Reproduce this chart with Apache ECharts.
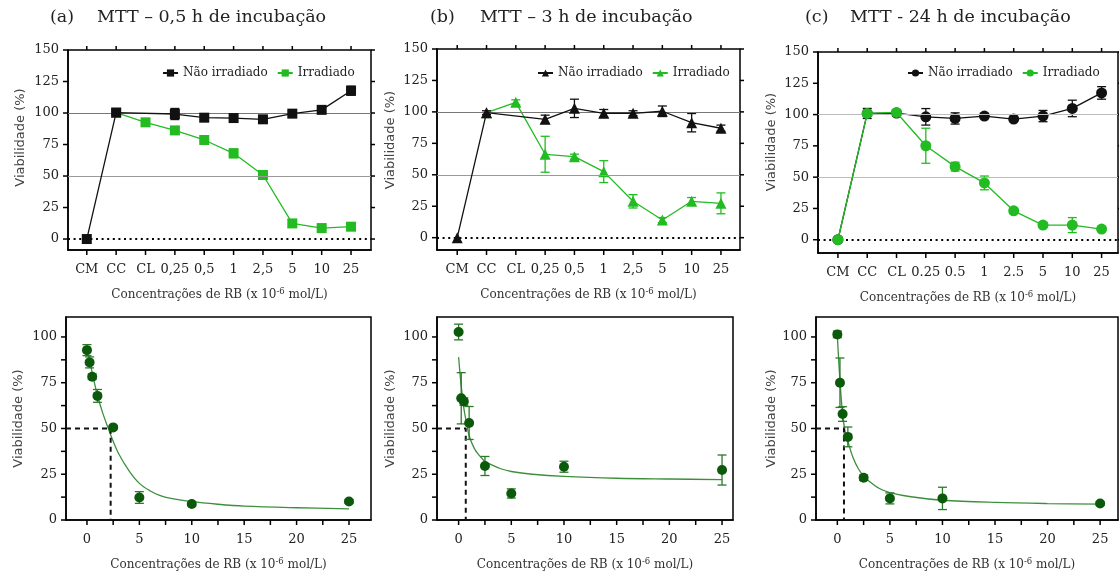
<!DOCTYPE html>
<html>
<head>
<meta charset="utf-8">
<script src="https://cdn.jsdelivr.net/npm/echarts@6/dist/echarts.min.js"></script>
<style>
  html, body { margin: 0; padding: 0; background: #fff; }
  #chart { width: 1119px; height: 574px; }
</style>
</head>
<body>
<div id="chart"></div>
<script>
// ---- category labels of the MTT screens ----
const catsComma = ['CM', 'CC', 'CL', '0,25', '0,5', '1', '2,5', '5', '10', '25'];
const catsDot = ['CM', 'CC', 'CL', '0.25', '0.5', '1', '2.5', '5', '10', '25'];
const yTicksTop = [0, 25, 50, 75, 100, 125, 150];

// ---- (a) 0,5 h ----  (null = not measured)
const aNao = [0, 100.3, null, 99.2, 96.3, 96, 95, 99.5, 102.5, 117.7];
const aNaoErr = [0, 1, null, 4.4, 1.5, 1.5, 1.5, 1.5, 1.5, 3.6];
const aIrr = [null, 100.3, 92.6, 86.2, 78.6, 68, 50.8, 12.4, 8.7, 9.8];
const aIrrErr = [null, 0, 2.5, 3, 1.5, 3.5, 1, 3, 1, 1];

// ---- (b) 3 h ----
const bNao = [0, 99.4, null, 94.1, 102.8, 98.9, 98.9, 100.5, 91.4, 87];
const bNaoErr = [0, 1.5, null, 3.3, 7.3, 3, 2, 4.2, 7.3, 2.5];
const bIrr = [null, 99.4, 107.6, 66.3, 64.4, 52.5, 28.9, 14, 28.9, 27.3];
const bIrrErr = [null, 0, 2, 14.3, 2, 8.7, 5.3, 2, 3, 8.3];

// ---- (c) 24 h ----
const cNao = [0, 100.9, 101.2, 98.2, 96.9, 98.8, 96.4, 98.8, 104.9, 117.3];
const cNaoErr = [0, 4, 1, 6.6, 4.5, 1.5, 1.5, 4.5, 6.6, 5];
const cIrr = [0, 100.9, 101.7, 75.1, 58.4, 45.4, 23.1, 11.7, 11.7, 8.5];
const cIrrErr = [0, 0, 1, 14, 3.5, 5.5, 2, 2, 6, 1.5];

// ---- dose-response (irradiated) ----
const doseX = [0, 0.25, 0.5, 1, 2.5, 5, 10, 25];
const doseA = [92.8, 86.1, 78.3, 67.8, 50.6, 12.3, 8.7, 10.1];
const doseAErr = [3, 3, 1.5, 3.5, 1, 3.2, 1, 1];
const doseB = [102.7, 66.5, 64.7, 53, 29.5, 14.5, 29.1, 27.3];
const doseBErr = [4.3, 14, 2, 9, 5.2, 2.5, 3, 8.2];
const doseC = [101.4, 75, 57.9, 45.4, 23.1, 11.8, 11.8, 9];
const doseCErr = [1.8, 13.5, 4, 5.4, 1.5, 3, 6.1, 1];

// fitted curves
const fitXA = [0, 0.25, 0.5, 0.75, 1, 1.5, 2, 2.5, 3, 4, 5, 6, 7, 8, 10, 12.5, 15, 20, 25];
const fitA = [93, 87, 80.5, 74, 68, 58.5, 50.5, 43, 36.5, 27, 20, 16, 13.3, 11.8, 10, 8.6, 7.6, 6.7, 6.1];
const fitXB = [0, 0.25, 0.5, 0.75, 1, 1.5, 2, 2.5, 3, 4, 5, 7, 10, 15, 20, 25];
const fitB = [89, 73, 61, 53, 46, 39, 35, 32, 30.5, 28, 26.5, 25, 23.8, 22.8, 22.4, 22.1];
const fitXC = [0, 0.25, 0.5, 0.75, 1, 1.5, 2, 2.5, 3, 4, 5, 7, 10, 15, 20, 25];
const fitC = [101, 76, 58, 48, 43, 34, 28, 24, 21.3, 17.2, 15, 12.7, 10.8, 9.6, 9.0, 8.7];

// CC50 values (x 10^-6 mol/L)
const cc50 = [2.26, 0.68, 0.63];
const cc50Text = ['2,26', '0,68', '0,63'];
const cc50Unit = ['mol/L', 'mol L', 'mol/L'];
const cc50Eq = ['= ', ' = ', '= '];

// ---------------------------------------------------------------
const SERIF = 'DejaVu Serif';
const SANS = 'DejaVu Sans';
const GREEN = '#22bb22';
const BLACK = '#111';
const DARKGREEN = '#0b5a0b';

const topLayout = [
  { left: 68, right: 1119 - 371, top: 50, bottom: 574 - 250, xmin: -0.64, xmax: 9.68, ymin: -8.7, nameGap: 41, namePad: 25 },
  { left: 437, right: 1119 - 740, top: 49, bottom: 574 - 250, xmin: -0.69, xmax: 9.65, ymin: -9.8, nameGap: 40, namePad: 19 },
  { left: 818, right: 1, top: 52, bottom: 574 - 253, xmin: -0.68, xmax: 9.56, ymin: -10.6, nameGap: 39.5, namePad: 21 }
];
const botLayout = [
  { left: 66, right: 1119 - 371, xmin: -2.0, xmax: 27.1, nameGap: 41, annX: 3.65 },
  { left: 437, right: 1119 - 733, xmin: -2.05, xmax: 26.04, nameGap: 40, annX: 2.05 },
  { left: 816, right: 1, xmin: -2.03, xmax: 26.7, nameGap: 38, annX: 2.06 }
];
const botTop = 317, botBottom = 574 - 521, botYmax = 110.9;

const xNameRich = {
  text: 'Concentrações de RB (x 10{sup|-6} mol/L)',
  style: { fontFamily: SERIF, fontSize: 12, color: '#333', lineHeight: 16,
    rich: { sup: { fontFamily: SERIF, fontSize: 8.5, color: '#333', verticalAlign: 'top', lineHeight: 9 } } }
};

function range(a, b, s) { const r = []; for (let v = a; v <= b + 1e-9; v += s) r.push(+v.toFixed(3)); return r; }

function pts(vals) {
  const out = [];
  vals.forEach((v, i) => { if (v !== null) out.push([i, v]); });
  return out;
}
function errPts(xs, vals, errs) {
  const out = [];
  vals.forEach((v, i) => {
    if (v !== null && errs[i]) out.push([xs[i], v - errs[i], v + errs[i]]);
  });
  return out;
}

function errorSeries(idx, data, color, z) {
  return {
    type: 'custom', xAxisIndex: idx, yAxisIndex: idx, z: z, silent: true,
    encode: { x: 0, y: [1, 2] },
    data: data,
    renderItem: function (params, api) {
      const x = api.value(0);
      const lo = api.coord([x, api.value(1)]);
      const hi = api.coord([x, api.value(2)]);
      const w = 4.5;
      const st = { stroke: color, lineWidth: 1.3 };
      return {
        type: 'group', children: [
          { type: 'line', shape: { x1: lo[0], y1: lo[1], x2: hi[0], y2: hi[1] }, style: st },
          { type: 'line', shape: { x1: lo[0] - w, y1: lo[1], x2: lo[0] + w, y2: lo[1] }, style: st },
          { type: 'line', shape: { x1: hi[0] - w, y1: hi[1], x2: hi[0] + w, y2: hi[1] }, style: st }
        ]
      };
    }
  };
}

// Frame tick marks placed through the axis scales.
// side: 'bottom' | 'top' (x values) or 'left' | 'right' (y values)
function tickSeries(idx, values, side, len, yRef, xRef) {
  const isX = side === 'bottom' || side === 'top';
  return {
    type: 'custom', xAxisIndex: idx, yAxisIndex: idx, z: 10, silent: true, clip: false,
    encode: { x: 0, y: 1 },
    data: values.map((v) => isX ? [v, yRef] : [xRef, v]),
    renderItem: function (params, api) {
      const cs = params.coordSys;
      const p = api.coord([api.value(0), api.value(1)]);
      let shape;
      if (side === 'bottom') shape = { x1: p[0], y1: cs.y + cs.height, x2: p[0], y2: cs.y + cs.height + len };
      else if (side === 'top') shape = { x1: p[0], y1: cs.y, x2: p[0], y2: cs.y - len };
      else if (side === 'left') shape = { x1: cs.x, y1: p[1], x2: cs.x - len, y2: p[1] };
      else shape = { x1: cs.x + cs.width, y1: p[1], x2: cs.x + cs.width + len, y2: p[1] };
      return { type: 'line', shape: shape, style: { stroke: '#000', lineWidth: 1.5 } };
    }
  };
}

const frameLine = { show: true, onZero: false, lineStyle: { color: '#000', width: 1.5 } };

const grid = [], xAxis = [], yAxis = [], series = [], legend = [], title = [];

// ---- top panels: MTT screens ----
const topSets = [
  { nao: aNao, naoErr: aNaoErr, irr: aIrr, irrErr: aIrrErr, cats: catsComma, sym: 'rect', size: 10, greenOnTop: false, g50: '#999', g100: '#777', key: 'a' },
  { nao: bNao, naoErr: bNaoErr, irr: bIrr, irrErr: bIrrErr, cats: catsComma, sym: 'triangle', size: 11, greenOnTop: false, g50: '#999', g100: '#777', key: 'b' },
  { nao: cNao, naoErr: cNaoErr, irr: cIrr, irrErr: cIrrErr, cats: catsDot, sym: 'circle', size: 11, greenOnTop: true, g50: '#bbb', g100: '#bbb', key: 'c' }
];
const legendLeft = [157, 532, 902];
const titleParts = [
  ['(a)', 'MTT – 0,5 h de incubação', 50, 97],
  ['(b)', 'MTT – 3 h de incubação', 430, 480],
  ['(c)', 'MTT - 24 h de incubação', 805, 850]
];

topSets.forEach((s, i) => {
  const L = topLayout[i];
  grid.push({ left: L.left, right: L.right, top: L.top, bottom: L.bottom, show: true,
    borderColor: '#000', borderWidth: 1.5, backgroundColor: 'transparent' });
  const idx = i;
  const xs = range(0, 9, 1);
  xAxis[idx] = {
    gridIndex: i, type: 'value', min: L.xmin, max: L.xmax,
    axisLine: frameLine, splitLine: { show: false }, axisTick: { show: false },
    axisLabel: { customValues: xs, formatter: (v) => s.cats[Math.round(v)], margin: 13,
      fontFamily: SERIF, fontSize: 13, color: '#222' },
    name: xNameRich.text, nameLocation: 'middle', nameGap: 37, nameTextStyle: xNameRich.style
  };
  yAxis[idx] = {
    gridIndex: i, type: 'value', min: L.ymin, max: 150,
    axisLine: frameLine, splitLine: { show: false }, axisTick: { show: false },
    axisLabel: { customValues: yTicksTop, margin: 9, fontFamily: SERIF, fontSize: 13, color: '#222' },
    name: 'Viabilidade (%)', nameLocation: 'middle', nameGap: L.nameGap,
    nameTextStyle: { fontFamily: SANS, fontSize: 13, color: '#444', padding: [0, 0, 0, L.namePad] }
  };

  const naoName = s.key + '|Não irradiado';
  const irrName = s.key + '|Irradiado';
  const refLines = {
    silent: true, symbol: ['none', 'none'], label: { show: false },
    data: [
      { yAxis: 100, lineStyle: { color: s.g100, width: 1.2, type: 'solid' } },
      { yAxis: 50, lineStyle: { color: s.g50, width: 1.2, type: 'solid' } },
      { yAxis: 0, lineStyle: { color: '#000', width: 1.8, type: [2, 3.6] } }
    ]
  };
  const lineBase = (name, data, color, z) => ({
    name: name, type: 'line', xAxisIndex: idx, yAxisIndex: idx, data: data, z: z,
    symbol: s.sym, symbolSize: s.size, connectNulls: true,
    lineStyle: { color: color, width: 1.3 }, itemStyle: { color: color }, emphasis: { disabled: true }
  });
  const irrSeries = lineBase(irrName, pts(s.irr), GREEN, s.greenOnTop ? 5 : 3);
  const naoSeries = lineBase(naoName, pts(s.nao), BLACK, s.greenOnTop ? 3 : 5);
  series.push({ type: 'line', xAxisIndex: idx, yAxisIndex: idx, data: [], z: 1, markLine: refLines });
  series.push(errorSeries(idx, errPts(xs, s.nao, s.naoErr), BLACK, s.greenOnTop ? 2 : 4));
  series.push(errorSeries(idx, errPts(xs, s.irr, s.irrErr), GREEN, s.greenOnTop ? 4 : 2));
  series.push(irrSeries, naoSeries);
  // frame ticks on all four sides
  series.push(tickSeries(idx, xs, 'bottom', 5, 0, 0));
  series.push(tickSeries(idx, xs, 'top', 4, 0, 0));
  series.push(tickSeries(idx, yTicksTop, 'left', 5, 0, 0));
  series.push(tickSeries(idx, yTicksTop, 'right', 4, 0, 0));

  legend.push({
    data: [naoName, irrName], left: legendLeft[i], top: 62, itemWidth: 15, itemHeight: 9, itemGap: 9,
    formatter: (n) => n.split('|')[1], selectedMode: false,
    textStyle: { fontFamily: SERIF, fontSize: 12, color: '#222' }
  });

  const tp = titleParts[i];
  const tStyle = { fontFamily: SERIF, fontSize: 17.5, fontWeight: 'normal', color: '#222' };
  title.push({ text: tp[0], left: tp[2], top: 8, padding: 0, textStyle: tStyle });
  title.push({ text: tp[1], left: tp[3], top: 8, padding: 0, textStyle: tStyle });
});

// ---- bottom panels: dose-response with fit ----
const botSets = [
  { y: doseA, e: doseAErr, fx: fitXA, fy: fitA },
  { y: doseB, e: doseBErr, fx: fitXB, fy: fitB },
  { y: doseC, e: doseCErr, fx: fitXC, fy: fitC }
];
botSets.forEach((s, i) => {
  const L = botLayout[i];
  const g = 3 + i;
  grid.push({ left: L.left, right: L.right, top: botTop, bottom: botBottom, show: true,
    borderColor: '#000', borderWidth: 1.5, backgroundColor: 'transparent' });
  xAxis[g] = {
    gridIndex: g, type: 'value', min: L.xmin, max: L.xmax,
    axisLine: frameLine, splitLine: { show: false }, axisTick: { show: false },
    axisLabel: { customValues: range(0, 25, 5), margin: 13, fontFamily: SERIF, fontSize: 13, color: '#222' },
    name: xNameRich.text, nameLocation: 'middle', nameGap: 37, nameTextStyle: xNameRich.style
  };
  yAxis[g] = {
    gridIndex: g, type: 'value', min: 0, max: botYmax,
    axisLine: frameLine, splitLine: { show: false }, axisTick: { show: false },
    axisLabel: { customValues: range(0, 100, 25), margin: 9, fontFamily: SERIF, fontSize: 13, color: '#222' },
    name: 'Viabilidade (%)', nameLocation: 'middle', nameGap: L.nameGap,
    nameTextStyle: { fontFamily: SANS, fontSize: 13, color: '#444' }
  };

  // fitted curve
  series.push({
    type: 'line', xAxisIndex: g, yAxisIndex: g, z: 2, silent: true,
    data: s.fx.map((x, k) => [x, s.fy[k]]), smooth: 0.35,
    symbol: 'none', lineStyle: { color: '#3d8f3d', width: 1.3 }
  });
  // CC50 guide lines
  series.push({
    type: 'line', xAxisIndex: g, yAxisIndex: g, z: 3, silent: true,
    data: [[L.xmin, 50], [cc50[i], 50], [cc50[i], 0]],
    symbol: 'none', lineStyle: { color: '#111', width: 2, type: [5, 4] }
  });
  series.push(errorSeries(g, errPts(doseX, s.y, s.e), '#2a7a2a', 4));
  series.push({
    type: 'scatter', xAxisIndex: g, yAxisIndex: g, z: 5, silent: true,
    data: doseX.map((x, k) => [x, s.y[k]]), symbol: 'circle', symbolSize: 10,
    itemStyle: { color: DARKGREEN, opacity: 1 }
  });
  series.push(tickSeries(g, range(0, 25, 2.5), 'bottom', 5, 0, 0));
  series.push(tickSeries(g, range(0, 100, 12.5), 'left', 5, 0, 0));
  // CC50 annotation
  series.push({
    type: 'scatter', xAxisIndex: g, yAxisIndex: g, z: 6, silent: true,
    data: [[L.annX, 50]], symbolSize: 1, itemStyle: { opacity: 0 },
    label: {
      show: true, position: 'right', distance: 0,
      formatter: '{m|CC}{sub|50}{m|' + cc50Eq[i] + cc50Text[i] + ' x 10}{sup|-6}{m| ' + cc50Unit[i] + '}',
      rich: {
        m: { fontFamily: SERIF, fontSize: 13.5, color: '#222', lineHeight: 22 },
        sub: { fontFamily: SERIF, fontSize: 9.5, color: '#222', lineHeight: 10, verticalAlign: 'bottom' },
        sup: { fontFamily: SERIF, fontSize: 9, color: '#222', lineHeight: 10, verticalAlign: 'top' }
      }
    }
  });
});

const chart = echarts.init(document.getElementById('chart'), null, { renderer: 'canvas' });
chart.setOption({
  animation: false,
  backgroundColor: '#fff',
  title: title,
  legend: legend,
  grid: grid,
  xAxis: xAxis,
  yAxis: yAxis,
  series: series
});
</script>
</body>
</html>
